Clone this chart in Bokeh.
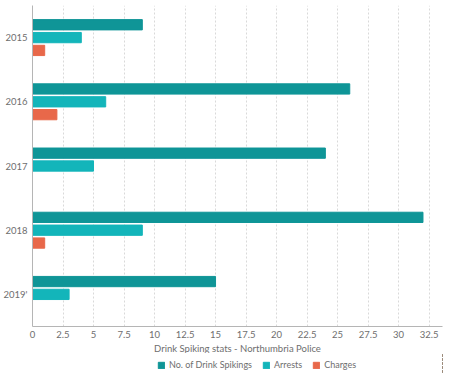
from bokeh.plotting import figure
from bokeh.models import (ColumnDataSource, FactorRange, Range1d, FixedTicker,
                          Legend, LegendItem, Title)
from bokeh.layouts import column
from bokeh.transform import dodge
from bokeh.embed import file_html
from bokeh.resources import INLINE

years = ["2015", "2016", "2017", "2018", "2019'"]
spikings = [9, 26, 24, 32, 15]
arrests = [4, 6, 5, 9, 3]
charges = [1, 2, 0, 1, 0]
tick_values = [0, 2.5, 5, 7.5, 10, 12.5, 15, 17.5, 20, 22.5, 25, 27.5, 30, 32.5]
tick_labels = ["0", "2.5", "5", "7.5", "10", "12.5", "15", "17.5", "20",
               "22.5", "25", "27.5", "30", "32.5"]
series_names = ["No. of Drink Spikings", "Arrests", "Charges"]
colors = ["#0f9597", "#13b5ba", "#e8684a"]
x_title = "Drink Spiking stats - Northumbria Police"
fields = ["spikings", "arrests", "charges"]

src = ColumnDataSource(dict(year=years, spikings=spikings, arrests=arrests, charges=charges))

FONT = "Lato"
GREY = "#6e6e6e"

p = figure(y_range=FactorRange(*reversed(years)), x_range=Range1d(0, 33.6),
           frame_width=410, frame_height=321, output_backend="svg",
           toolbar_location=None, min_border_left=0, min_border_right=9,
           min_border_top=5, min_border_bottom=0)
p.outline_line_color = None

for field, off, col in zip(fields, [0.2, 0.0, -0.2], colors):
    p.hbar(y=dodge("year", off, range=p.y_range), right=field, left=0,
           height=0.16, color=col, source=src)

p.xaxis.ticker = FixedTicker(ticks=tick_values)
p.xaxis.major_label_overrides = {v: l for v, l in zip(tick_values, tick_labels)}
for ax in (p.xaxis[0], p.yaxis[0]):
    ax.axis_line_color = "#b5b5b5"
    ax.major_tick_line_color = None
    ax.minor_tick_line_color = None
    ax.major_tick_out = 0
    ax.major_tick_in = 0
    ax.minor_tick_out = 0
    ax.minor_tick_in = 0
    ax.major_label_text_font = FONT
    ax.major_label_text_color = GREY
    ax.major_label_text_font_size = "9.5px"
p.xaxis.major_label_standoff = 4
p.yaxis.major_label_standoff = 5

p.add_layout(Title(text=x_title, align="center", text_font=FONT, text_font_style="normal",
                   text_color=GREY, text_font_size="9.5px", standoff=0, offset=0),
             "below")

p.ygrid.grid_line_color = None
p.xgrid.grid_line_color = "#d9d9d9"
p.xgrid.grid_line_dash = "2 2"

# legend strip below the chart (its bars lie outside the visible range)
p2 = figure(y_range=FactorRange(*years), x_range=Range1d(-2, -1),
            width=451, height=20, output_backend="svg", toolbar_location=None,
            x_axis_location=None, y_axis_location=None,
            min_border_left=0, min_border_right=0, min_border_top=0, min_border_bottom=0)
p2.outline_line_color = None
p2.grid.grid_line_color = None
leg_renderers = []
for field, col in zip(fields, colors):
    r = p2.hbar(y="year", right=field, left=0, height=0.5, color=col, source=src)
    leg_renderers.append(r)

legend = Legend(items=[LegendItem(label=n, renderers=[r]) for n, r in zip(series_names, leg_renderers)],
                orientation="horizontal", location=(125, 3),
                label_text_font=FONT, label_text_color=GREY, label_text_font_size="9px",
                glyph_width=8, glyph_height=8, spacing=10, label_standoff=4,
                label_height=10,
                padding=2, margin=0, border_line_color=None, background_fill_alpha=0)
p2.add_layout(legend, "center")

layout = column(p, p2)
open("out.html", "w").write(file_html(layout, INLINE))
